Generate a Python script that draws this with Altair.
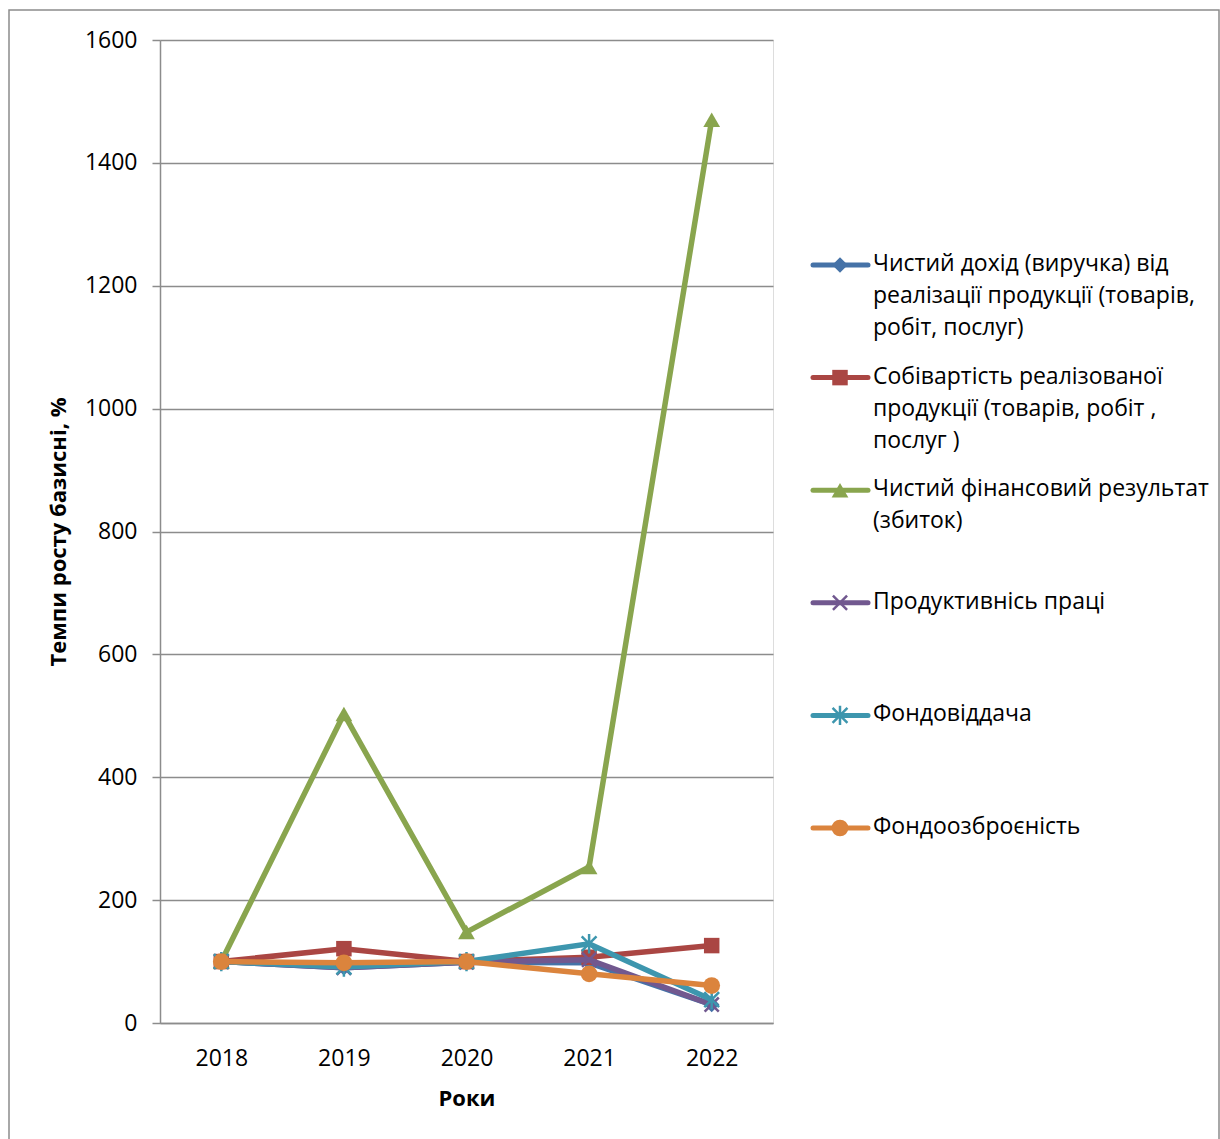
import altair as alt
import pandas as pd

years = ["2018", "2019", "2020", "2021", "2022"]
series_names = [
    " Чистий дохід (виручка) від реалізації продукції (товарів, робіт, послуг)",
    " Собівартість реалізованої продукції (товарів, робіт , послуг )",
    "Чистий фінансовий результат (збиток)",
    "Продуктивнісь праці",
    "Фондовіддача",
    "Фондоозброєність",
]
legend_labels = [
    " Чистий дохід (виручка) від\nреалізації продукції (товарів,\nробіт, послуг)",
    " Собівартість реалізованої\nпродукції (товарів, робіт ,\nпослуг )",
    "Чистий фінансовий результат\n(збиток)",
    "Продуктивнісь праці",
    "Фондовіддача",
    "Фондоозброєність",
]
revenue = [100, 90, 99, 98, 30]
cost = [100, 121, 100, 107, 126]
net_result = [100, 503, 148, 254, 1470]
productivity = [100, 90, 99, 103, 30]
capital_productivity = [100, 91, 100, 129, 38]
capital_ratio = [100, 98, 100, 80, 61]
values = [revenue, cost, net_result, productivity, capital_productivity, capital_ratio]

colors = ["#4572A7", "#AA4643", "#89A54E", "#71588F", "#3D96AE", "#DB843D"]
X_PATH = "M-1,-1L1,1M-1,1L1,-1"
STAR_PATH = "M-1,-1L1,1M-1,1L1,-1M0,-1.3L0,1.3"
shapes = ["diamond", "square", "triangle-up", X_PATH, STAR_PATH, "circle"]
filled = [True, True, True, False, False, True]
sizes = [240, 240, 280, 200, 220, 280]

FONT = "Open Sans"
FS = 23

yscale = alt.Scale(domain=[0, 1600])
xscale = alt.Scale(domain=years, padding=0.5)

y_axis = alt.Axis(
    values=list(range(0, 1601, 200)), format="d", title="Темпи росту базисні, %",
    titleFontWeight="bold", titleFontSize=FS - 1, titleFont=FONT, titlePadding=14,
    labelFont=FONT, labelFontSize=FS, labelColor="black", labelPadding=15,
    grid=True, gridColor="#8c8c8c", gridWidth=1.5,
    domainColor="#8c8c8c", domainWidth=1.5,
    tickColor="#8c8c8c", tickSize=8, tickWidth=1.5, titleColor="black",
)
x_axis = alt.Axis(
    title="Роки", titleFontWeight="bold", titleFontSize=FS - 1, titleFont=FONT,
    titleColor="black", titlePadding=18,
    labelFont=FONT, labelFontSize=FS, labelColor="black", labelPadding=24,
    labelAngle=0, ticks=False, grid=False,
    domainColor="#8c8c8c", domainWidth=1.5,
)

main_layers = []
for i, name in enumerate(series_names):
    df = pd.DataFrame({"year": years, "value": values[i], "series": name})
    base = alt.Chart(df)
    enc = dict(
        x=alt.X("year:O", scale=xscale, axis=x_axis),
        y=alt.Y("value:Q", scale=yscale, axis=y_axis),
    )
    line = base.mark_line(color=colors[i], strokeWidth=5.5).encode(**enc)
    if filled[i]:
        pt = base.mark_point(shape=shapes[i], filled=True, color=colors[i],
                             size=sizes[i], opacity=1).encode(**enc)
    else:
        pt = base.mark_point(shape=shapes[i], filled=False, color=colors[i],
                             size=sizes[i], strokeWidth=2.5, opacity=1).encode(**enc)
    main_layers += [line, pt]

main = alt.layer(*main_layers)

# legend
leg_df = pd.DataFrame({"idx": list(range(6)), "label": legend_labels, "series": series_names})
leg_y = alt.Y("idx:Q", scale=alt.Scale(domain=[0, 5], range=[225, 788]), axis=None)
leg_layers = []
for i in range(6):
    sub = alt.Chart(leg_df[leg_df["idx"] == i])
    leg_layers.append(sub.mark_rule(color=colors[i], strokeWidth=5, strokeCap="round").encode(
        x=alt.value(653), x2=alt.value(708), y=leg_y))
    if filled[i]:
        leg_layers.append(sub.mark_point(shape=shapes[i], filled=True, color=colors[i],
                                         size=sizes[i], opacity=1).encode(x=alt.value(680), y=leg_y))
    else:
        leg_layers.append(sub.mark_point(shape=shapes[i], filled=False, color=colors[i],
                                         size=sizes[i], strokeWidth=2.5, opacity=1).encode(x=alt.value(680), y=leg_y))
leg_text = alt.Chart(leg_df).mark_text(
    align="left", baseline="top", dy=-12, font=FONT, fontSize=FS,
    lineBreak="\n", lineHeight=32, color="black"
).encode(x=alt.value(713), y=leg_y, text="label:N")
legend = alt.layer(*leg_layers, leg_text)

frame = alt.Chart(pd.DataFrame({"a": [0]})).mark_rect(
    filled=False, stroke="#8c8c8c", strokeWidth=1.5
).encode(x=alt.value(-151), x2=alt.value(1059), y=alt.value(-30), y2=alt.value(1200))

chart = alt.layer(frame, main, legend).resolve_scale(y="independent").properties(
    width=613, height=983,
    padding={"left": 160, "top": 40, "right": 447, "bottom": 116},
    autosize=alt.AutoSizeParams(type="none"),
).configure_view(stroke=None).configure(background="white")

chart.save("out.html", embed_options={"renderer": "svg", "actions": False})
